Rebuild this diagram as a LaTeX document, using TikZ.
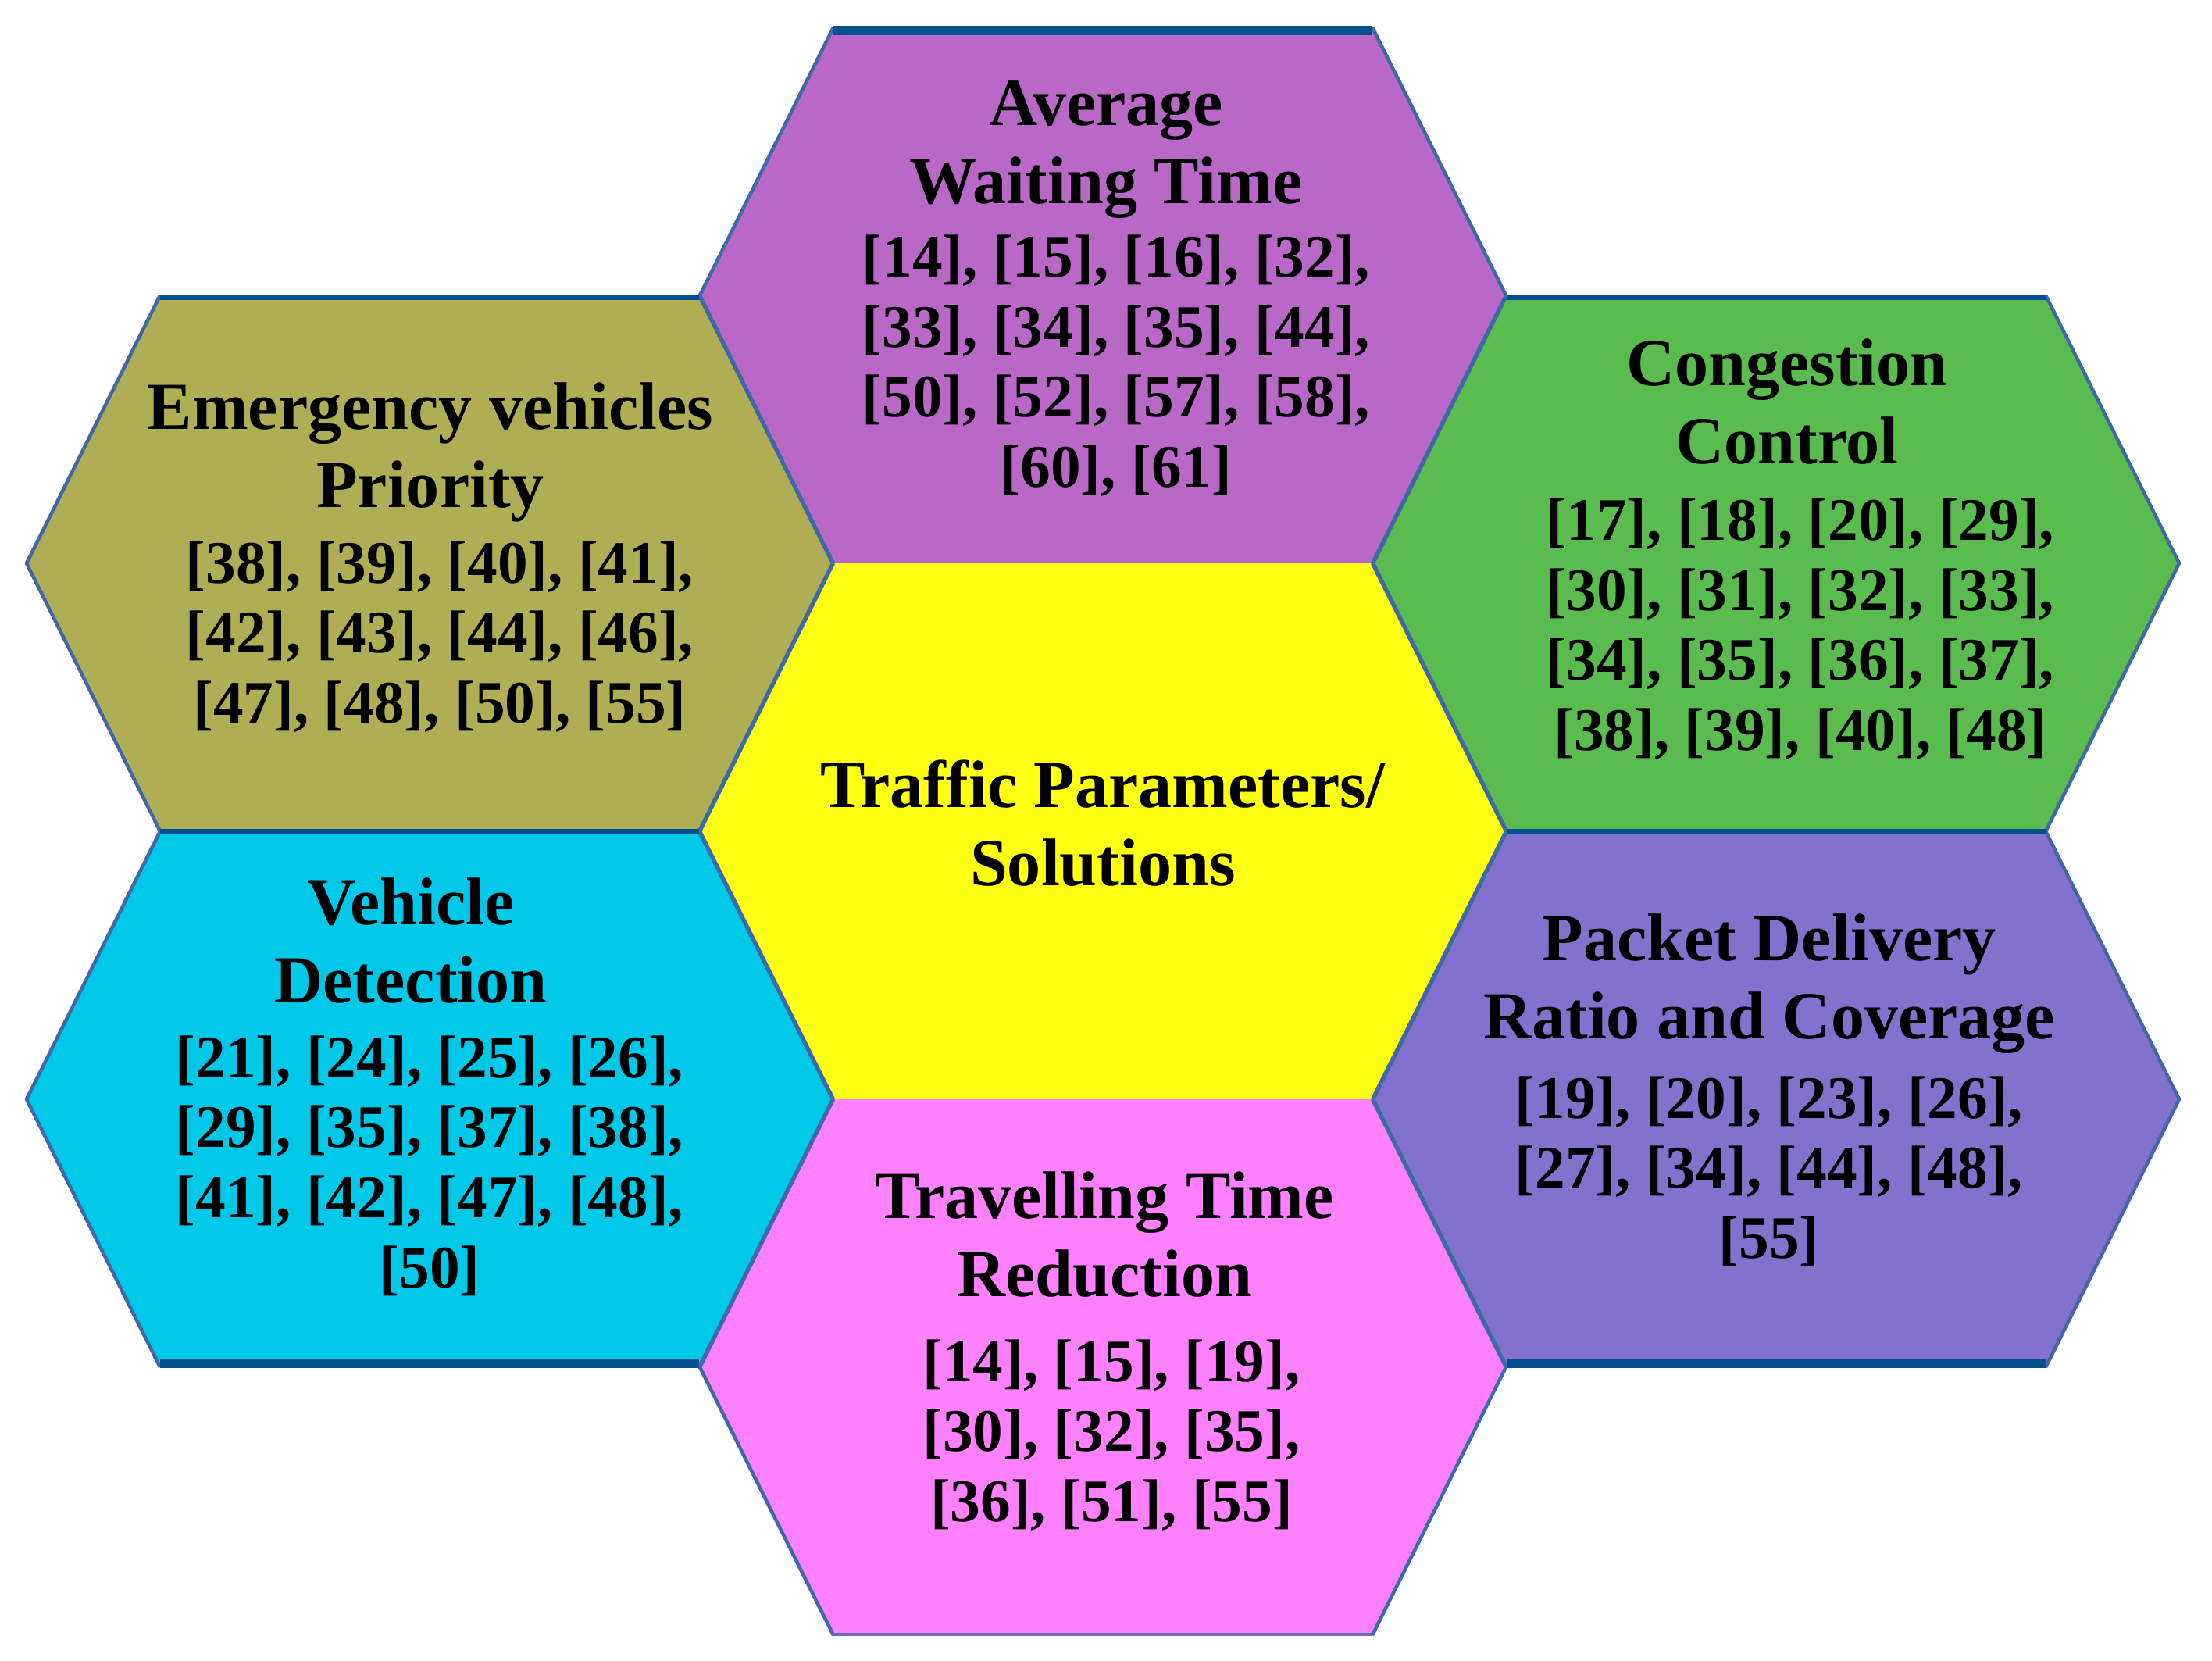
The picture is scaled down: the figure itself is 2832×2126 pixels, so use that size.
\documentclass[tikz,border=0pt]{standalone}
\usepackage{fontspec}
\setmainfont{Liberation Serif}
\definecolor{hPurple}{HTML}{B968C8}
\definecolor{hOlive}{HTML}{AFAE55}
\definecolor{hGreen}{HTML}{5ABB4F}
\definecolor{hCyan}{HTML}{00C8E8}
\definecolor{hViolet}{HTML}{8272CE}
\definecolor{hPink}{HTML}{FF80FF}
\definecolor{hYellow}{HTML}{FFFF14}
\definecolor{darkBlue}{HTML}{03508F}
\definecolor{edgeBlue}{HTML}{3F68A6}
\begin{document}
\begin{tikzpicture}[x=0.1mm,y=-0.1mm,
  thinedge/.style={draw=edgeBlue,line width=0.45mm,line join=round},
  thickedge/.style={draw=darkBlue},
  ttl/.style={font=\fontsize{24.5pt}{28.5pt}\selectfont\bfseries,align=center,inner sep=0pt},
  cite/.style={font=\fontsize{22pt}{25.5pt}\selectfont\bfseries,align=center,inner sep=0pt},
  hexfill/.pic={\fill[#1] (-516,0) -- (-345,-343) -- (345,-343) -- (516,0) -- (345,343) -- (-345,343) -- cycle;},
  hexedge/.pic={\draw[thinedge] (-345,-343) -- (-516,0) -- (-345,343) (345,-343) -- (516,0) -- (345,343);}
]
\useasboundingbox (0,0) rectangle (2832,2126);
\fill[white] (0,0) rectangle (2832,2126);

% hexagon fills
\pic (fT) at (1412,378)  {hexfill=hPurple};
\pic (fL1) at (550,721)  {hexfill=hOlive};
\pic (fR1) at (2274,721) {hexfill=hGreen};
\pic (fC) at (1412,1064) {hexfill=hYellow};
\pic (fL2) at (550,1407) {hexfill=hCyan};
\pic (fR2) at (2274,1407) {hexfill=hViolet};
\pic (fB) at (1412,1750) {hexfill=hPink};

% slanted edges
\foreach \cx/\cy in {1412/378,550/721,2274/721,1412/1064,550/1407,2274/1407,1412/1750}
  \pic at (\cx,\cy) {hexedge};

% horizontal edges
\draw[thickedge,line width=1.2mm] (1067,39) -- (1757,39);
\draw[thickedge,line width=0.7mm] (205,381) -- (895,381);
\draw[thickedge,line width=0.7mm] (1929,381) -- (2619,381);
\draw[thickedge,line width=0.7mm] (205,1064) -- (895,1064);
\draw[thickedge,line width=0.7mm] (1929,1064) -- (2619,1064);
\draw[thickedge,line width=1.2mm] (205,1745) -- (895,1745);
\draw[thickedge,line width=1.2mm] (1929,1745) -- (2619,1745);
\draw[thinedge,draw=edgeBlue!80!hPink,line width=0.35mm] (1067,2092) -- (1757,2092);

% texts
\node[ttl] (tT) at (1416,192) {Average\\Waiting Time};
\node[cite] (cT) at (1429,468) {[14], [15], [16], [32],\\\relax [33], [34], [35], [44],\\\relax [50], [52], [57], [58],\\\relax [60], [61]};

\node[ttl] (tL1) at (551,579) {Emergency vehicles\\Priority};
\node[cite] (cL1) at (563,815) {[38], [39], [40], [41],\\\relax [42], [43], [44], [46],\\\relax [47], [48], [50], [55]};

\node[ttl] (tR1) at (2288,514) {Congestion\\Control};
\node[cite] (cR1) at (2305,805) {[17], [18], [20], [29],\\\relax [30], [31], [32], [33],\\\relax [34], [35], [36], [37],\\\relax [38], [39], [40], [48]};

\node[ttl] (tC) at (1412,1054) {Traffic Parameters/\\Solutions};

\node[ttl] (tL2) at (526,1204) {Vehicle\\Detection};
\node[cite] (cL2) at (550,1492) {[21], [24], [25], [26],\\\relax [29], [35], [37], [38],\\\relax [41], [42], [47], [48],\\\relax [50]};

\node[ttl] (tR2) at (2265,1259) {Packet Delivery\\Ratio and Coverage};
\node[cite] (cR2) at (2265,1499) {[19], [20], [23], [26],\\\relax [27], [34], [44], [48],\\\relax [55]};

\node[ttl] (tB) at (1414,1580) {Travelling Time\\Reduction};
\node[cite] (cB) at (1423,1837) {[14], [15], [19],\\\relax [30], [32], [35],\\\relax [36], [51], [55]};
\end{tikzpicture}
\end{document}
